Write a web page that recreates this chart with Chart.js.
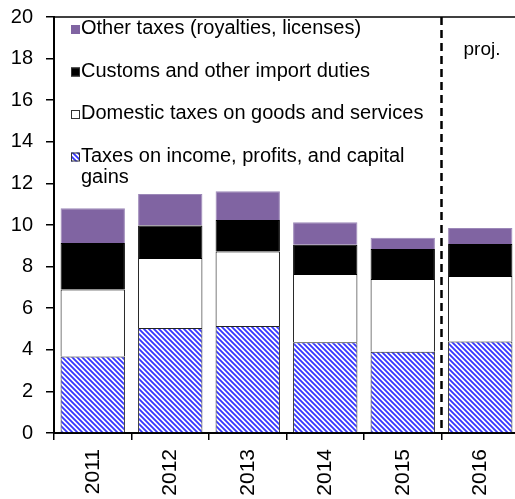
<!DOCTYPE html>
<html>
<head>
<meta charset="utf-8">
<script src="https://cdn.jsdelivr.net/npm/chart.js@4"></script>
<style>
  html, body { margin: 0; padding: 0; background: #fff; overflow: hidden; }
  #wrap { position: relative; width: 519px; height: 499px; }
  canvas { display: block; }
</style>
</head>
<body>
<div id="wrap"><canvas id="c" width="519" height="499"></canvas></div>
<script>
// Tax revenue by type, percent of GDP
const years = ['2011', '2012', '2013', '2014', '2015', '2016'];
const incomeTaxes   = [3.68, 5.05, 5.14, 4.36, 3.91, 4.40];
const domesticTaxes = [3.22, 3.36, 3.59, 3.28, 3.49, 3.15];
const customsDuties = [2.23, 1.57, 1.51, 1.41, 1.45, 1.54];
const otherTaxes    = [1.67, 1.51, 1.38, 1.08, 0.54, 0.77];

const seriesLabels = [
  'Taxes on income, profits, and capital gains',
  'Domestic taxes on goods and services',
  'Customs and other import duties',
  'Other taxes (royalties, licenses)'
];
const yMin = 0, yMax = 20, yStep = 2;
const projectionStart = 5;      // index of the first projected year
const projectionLabel = 'proj.';

const FONT = 'Arial, "Liberation Sans", sans-serif';

// Blue diagonal hatching for the income-tax segment
function makeHatch() {
  const s = 5;
  const t = document.createElement('canvas');
  t.width = s; t.height = s;
  const g = t.getContext('2d');
  g.fillStyle = '#ffffff';
  g.fillRect(0, 0, s, s);
  g.strokeStyle = '#3535ff';
  g.lineWidth = 1.8;
  g.beginPath();
  g.moveTo(-s, -s); g.lineTo(2 * s, 2 * s);
  g.moveTo(-s, 0);  g.lineTo(s, 2 * s);
  g.moveTo(0, -s);  g.lineTo(2 * s, s);
  g.stroke();
  return g.createPattern(t, 'repeat');
}

const canvas = document.getElementById('c');
const ctx = canvas.getContext('2d');
const hatch = makeHatch();

const datasets = [
  { label: seriesLabels[0], data: incomeTaxes,   backgroundColor: hatch,     borderColor: '#222222' },
  { label: seriesLabels[1], data: domesticTaxes, backgroundColor: '#ffffff', borderColor: '#000000' },
  { label: seriesLabels[2], data: customsDuties, backgroundColor: '#000000', borderColor: '#000000' },
  { label: seriesLabels[3], data: otherTaxes,    backgroundColor: '#8064a2', borderColor: '#9c88b8' }
];

// Frame top, projection divider, "proj." note and the in-plot legend
const overlay = {
  id: 'overlay',
  afterDraw(chart) {
    const c = chart.ctx;
    const area = chart.chartArea;
    const x = chart.scales.x;

    c.save();
    // top frame line
    c.strokeStyle = '#000';
    c.lineWidth = 1.5;
    c.beginPath();
    c.moveTo(area.left, area.top);
    c.lineTo(area.right, area.top);
    c.stroke();

    // dashed divider between actual and projected years
    const xd = (x.getPixelForValue(projectionStart - 1) + x.getPixelForValue(projectionStart)) / 2;
    c.setLineDash([8, 5]);
    c.lineWidth = 2.5;
    c.beginPath();
    c.moveTo(xd, area.top);
    c.lineTo(xd, area.bottom);
    c.stroke();
    c.setLineDash([]);

    c.fillStyle = '#000';
    c.font = '19px ' + FONT;
    c.textAlign = 'left';
    c.textBaseline = 'middle';
    c.fillText(projectionLabel, xd + 22, area.top + 33);

    // legend, last series first
    c.font = '20px ' + FONT;
    const boxX = area.left + 17, boxS = 9, textX = area.left + 27;
    const maxW = 360, lineH = 21.5, rowGap = 42.5;
    let y = area.top + 11.5;
    for (let i = chart.data.datasets.length - 1; i >= 0; i--) {
      const ds = chart.data.datasets[i];
      // wrap label to the legend width
      const words = ds.label.split(' ');
      const lines = [];
      let cur = '';
      for (const w of words) {
        const test = cur ? cur + ' ' + w : w;
        if (c.measureText(test).width > maxW && cur) { lines.push(cur); cur = w; }
        else cur = test;
      }
      lines.push(cur);

      c.fillStyle = ds.backgroundColor;
      c.fillRect(boxX, y - boxS / 2 + 1, boxS, boxS);
      c.strokeStyle = i === 3 ? ds.backgroundColor : '#333';
      c.lineWidth = 1;
      c.strokeRect(boxX + 0.5, y - boxS / 2 + 1.5, boxS - 1, boxS - 1);

      c.fillStyle = '#000';
      lines.forEach((ln, k) => c.fillText(ln, textX, y + k * lineH));
      y += rowGap;
    }
    c.restore();
  }
};

new Chart(ctx, {
  type: 'bar',
  data: { labels: years, datasets },
  options: {
    responsive: false,
    animation: false,
    layout: { padding: { top: 17, left: 0, right: 0, bottom: 0 } },
    datasets: { bar: { categoryPercentage: 1, barPercentage: 0.83, borderWidth: 1 } },
    plugins: { legend: { display: false }, tooltip: { enabled: false } },
    scales: {
      x: {
        stacked: true,
        grid: { drawOnChartArea: false, offset: true, tickLength: 7, color: '#000', lineWidth: 1.5 },
        border: { color: '#000', width: 2 },
        ticks: {
          color: '#000', font: { family: FONT, size: 21 },
          minRotation: 90, maxRotation: 90, padding: 9, autoSkip: false
        },
        afterFit(s) { s.height = 66; }
      },
      y: {
        stacked: true,
        min: yMin, max: yMax,
        grid: { drawOnChartArea: false, tickLength: 8, color: '#000', lineWidth: 1.5 },
        border: { color: '#000', width: 2 },
        // small lineHeight keeps the label half-height from pushing the plot top down
        ticks: { stepSize: yStep, color: '#000', font: { family: FONT, size: 20, lineHeight: 0.3 }, padding: 13 },
        afterFit(s) { s.width = 54; }
      }
    }
  },
  plugins: [overlay]
});
</script>
</body>
</html>
